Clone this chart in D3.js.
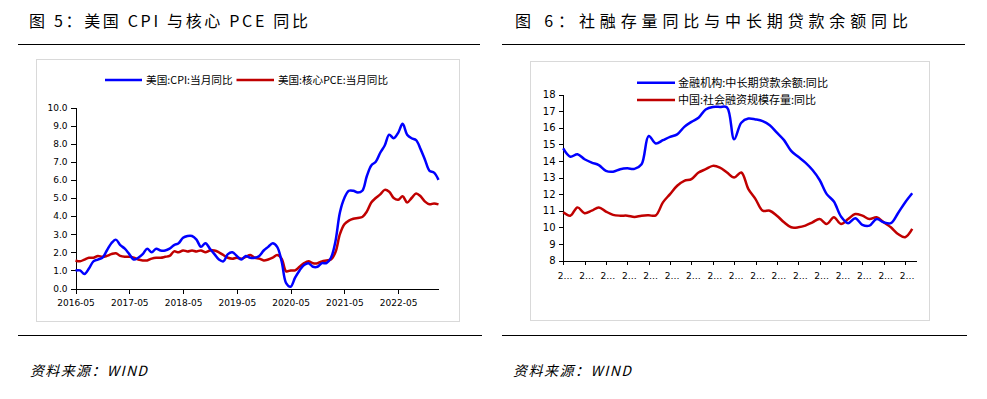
<!DOCTYPE html>
<html><head><meta charset="utf-8">
<script src="https://cdn.jsdelivr.net/npm/d3@7/dist/d3.min.js"></script>
<style>
html,body{margin:0;padding:0;background:#fff;}
svg{display:block;}
</style></head>
<body>
<svg id="c" width="987" height="399"></svg>
<script>
// ---------- DATA ----------
const leftTitle = "图 5：美国 CPI 与核心 PCE 同比";
const rightTitle = "图 6：社融存量同比与中长期贷款余额同比";
const sourceText = "资料来源：WIND";

const usSeriesNames = ["美国:CPI:当月同比", "美国:核心PCE:当月同比"];
const usTickLabels = ["2016-05","2017-05","2018-05","2019-05","2020-05","2021-05","2022-05"];
const usYTicks = [0,1,2,3,4,5,6,7,8,9,10];
// monthly 2016-05 .. 2023-02
const usCPI = [1.0,1.0,0.8,1.1,1.5,1.6,1.7,2.1,
  2.5,2.7,2.4,2.2,1.9,1.6,1.7,1.9,2.2,2.0,2.2,2.1,
  2.1,2.2,2.4,2.5,2.8,2.9,2.9,2.7,2.3,2.5,2.2,1.9,
  1.6,1.5,1.9,2.0,1.8,1.6,1.8,1.7,1.7,1.8,2.1,2.3,
  2.5,2.3,1.5,0.3,0.1,0.6,1.0,1.3,1.4,1.2,1.2,1.4,
  1.4,1.7,2.6,4.2,5.0,5.4,5.4,5.3,5.4,6.2,6.8,7.0,
  7.5,7.9,8.5,8.3,8.6,9.1,8.5,8.3,8.2,7.7,7.1,6.5,
  6.4,6.0];
const usCorePCE = [1.55,1.5,1.6,1.7,1.7,1.8,1.75,1.8,1.9,1.95,1.8,1.75,
  1.75,1.7,1.6,1.55,1.55,1.65,1.7,1.7,1.75,1.8,2.05,2.0,
  2.1,2.05,2.1,2.05,2.1,2.0,2.1,2.1,2.0,1.85,1.7,1.65,
  1.7,1.65,1.75,1.85,1.7,1.65,1.55,1.6,1.7,1.85,1.65,0.95,
  1.0,1.0,1.2,1.4,1.5,1.4,1.4,1.5,1.55,1.6,2.0,3.0,
  3.55,3.75,3.85,3.9,3.95,4.25,4.75,5.0,5.2,5.45,5.35,5.0,
  4.9,5.1,4.75,5.0,5.25,5.1,4.8,4.65,4.7,4.65];

const cnSeriesNames = ["金融机构:中长期贷款余额:同比", "中国:社会融资规模存量:同比"];
const cnYTicks = [8,9,10,11,12,13,14,15,16,17,18];
const cnTickLabel = "2…";
// monthly 2019-01 .. 2023-02
const cnLoanMLT = [14.75,14.25,14.4,14.1,13.9,13.75,13.4,13.35,13.5,13.55,
  13.52,13.8,15.5,15.05,15.25,15.45,15.6,16.05,16.35,16.6,
  17.1,17.25,17.25,17.22,15.3,16.3,16.55,16.5,16.4,16.15,
  15.7,15.25,14.6,14.25,13.9,13.45,12.85,12.0,11.55,10.65,
  10.25,10.55,10.15,10.1,10.5,10.3,10.25,10.85,11.5,12.05];
const cnSocialFin = [10.9,10.7,11.2,10.85,11.0,11.2,10.95,10.75,10.7,10.7,
  10.62,10.7,10.72,10.72,11.5,12.0,12.5,12.8,12.9,13.3,
  13.5,13.7,13.6,13.3,13.0,13.3,12.3,11.7,11.0,11.0,
  10.7,10.3,10.0,10.0,10.1,10.3,10.5,10.2,10.6,10.2,
  10.5,10.8,10.7,10.5,10.6,10.3,10.0,9.6,9.4,9.9];

// ---------- STYLE ----------
const BLUE = "#0000FF", RED = "#C00000";
const tickFont = "DejaVu Sans, Verdana, sans-serif";
const cjkFont = "'Noto Sans CJK SC', sans-serif";

const svg = d3.select("#c");
svg.append("rect").attr("width",987).attr("height",399).attr("fill","#fff");

// titles, rules, source
function header(x, y, text, len){
  svg.append("text").attr("x",x).attr("y",y).text(text)
    .attr("font-family",cjkFont).attr("font-size",16).attr("fill","#000")
    .attr("textLength",len).attr("lengthAdjust","spacing");
}
header(29, 27, leftTitle, 279);
header(515, 27, rightTitle, 393);
[[18,480],[502,965]].forEach(([a,b])=>{
  svg.append("line").attr("x1",a).attr("x2",b).attr("y1",44.5).attr("y2",44.5).attr("stroke","#000").attr("stroke-width",1.2);
  svg.append("line").attr("x1",a).attr("x2",b+2).attr("y1",335.5).attr("y2",335.5).attr("stroke","#000").attr("stroke-width",1.2);
});
[[30,117],[513,118]].forEach(([x,len])=>{
  svg.append("text").attr("x",x).attr("y",376).text(sourceText)
    .attr("font-family",cjkFont).attr("font-size",14).attr("font-style","italic")
    .attr("fill","#000").attr("textLength",len).attr("lengthAdjust","spacing")
    .attr("transform",`skewX(0)`);
});

// chart boxes
svg.append("rect").attr("x",36.5).attr("y",59.5).attr("width",423).attr("height",262).attr("fill","none").attr("stroke","#D9D9D9");
svg.append("rect").attr("x",530.5).attr("y",61.5).attr("width",399).attr("height",259).attr("fill","none").attr("stroke","#D9D9D9");

function styleAxis(g){
  g.selectAll("path,line").attr("stroke","#000").attr("stroke-width",1).attr("shape-rendering","crispEdges");
  g.selectAll("text").attr("font-family",tickFont).attr("font-size",9).attr("fill","#000");
}

// ---------- LEFT CHART ----------
{
  const n = usCPI.length;
  const x = d3.scaleLinear().domain([0, n-1]).range([75.5, 438.5]);
  const y = d3.scaleLinear().domain([0, 10]).range([288.5, 107.5]);
  const gy = svg.append("g").attr("transform","translate(75.5,0)")
    .call(d3.axisLeft(y).tickValues(usYTicks).tickFormat(d3.format(".1f")).tickSize(5).tickSizeOuter(0).tickPadding(3));
  styleAxis(gy);
  const tickIdx = usTickLabels.map((_,i)=>i*12);
  const gx = svg.append("g").attr("transform","translate(0,288.5)")
    .call(d3.axisBottom(x).tickValues(tickIdx).tickFormat((d,i)=>usTickLabels[i]).tickSize(5).tickSizeOuter(0).tickPadding(6));
  styleAxis(gx);
  const line = d3.line().x((d,i)=>x(i)).y(d=>y(d)).curve(d3.curveCatmullRom.alpha(0.5));
  [[usCorePCE,RED],[usCPI,BLUE]].forEach(([data,col])=>{
    svg.append("path").datum(data).attr("d",line).attr("fill","none").attr("stroke",col).attr("stroke-width",2.5).attr("stroke-linejoin","round");
  });
  // legend
  const lg = [[105,142,146,86.7,BLUE,usSeriesNames[0]],[236.5,274,278,110,RED,usSeriesNames[1]]];
  lg.forEach(([x1,x2,tx,len,col,name])=>{
    svg.append("line").attr("x1",x1).attr("x2",x2).attr("y1",80).attr("y2",80).attr("stroke",col).attr("stroke-width",2.5);
    svg.append("text").attr("x",tx).attr("y",84).text(name).attr("font-family",cjkFont).attr("font-size",10.5)
      .attr("fill","#000").attr("textLength",len).attr("lengthAdjust","spacingAndGlyphs");
  });
}

// ---------- RIGHT CHART ----------
{
  const n = cnLoanMLT.length;
  const x = d3.scaleLinear().domain([-0.1, n-0.4]).range([562.5, 916.5]);
  const y = d3.scaleLinear().domain([8, 18]).range([260.5, 94.5]);
  const gy = svg.append("g").attr("transform","translate(562.5,0)")
    .call(d3.axisLeft(y).tickValues(cnYTicks).tickFormat(d3.format("d")).tickSize(4).tickSizeOuter(0).tickPadding(3));
  styleAxis(gy);
  gy.selectAll("text").attr("font-size",10);
  const tickIdx = d3.range(0, n, 3);
  const gx = svg.append("g").attr("transform","translate(0,260.5)")
    .call(d3.axisBottom(x).tickValues(tickIdx).tickFormat(()=>cnTickLabel).tickSize(4).tickSizeOuter(0).tickPadding(8));
  styleAxis(gx);
  gx.selectAll("text").attr("dx",1.5);
  const line = d3.line().x((d,i)=>x(i)).y(d=>y(d)).curve(d3.curveCatmullRom.alpha(0.5));
  [[cnSocialFin,RED],[cnLoanMLT,BLUE]].forEach(([data,col])=>{
    svg.append("path").datum(data).attr("d",line).attr("fill","none").attr("stroke",col).attr("stroke-width",2.5).attr("stroke-linejoin","round");
  });
  const lg = [[82.7,86.5,150,BLUE,cnSeriesNames[0]],[100,103.5,138,RED,cnSeriesNames[1]]];
  lg.forEach(([ly,ty,len,col,name])=>{
    svg.append("line").attr("x1",637).attr("x2",675).attr("y1",ly).attr("y2",ly).attr("stroke",col).attr("stroke-width",2.5);
    svg.append("text").attr("x",678).attr("y",ty).text(name).attr("font-family",cjkFont).attr("font-size",11)
      .attr("fill","#000").attr("textLength",len).attr("lengthAdjust","spacingAndGlyphs");
  });
}
</script>
</body></html>
